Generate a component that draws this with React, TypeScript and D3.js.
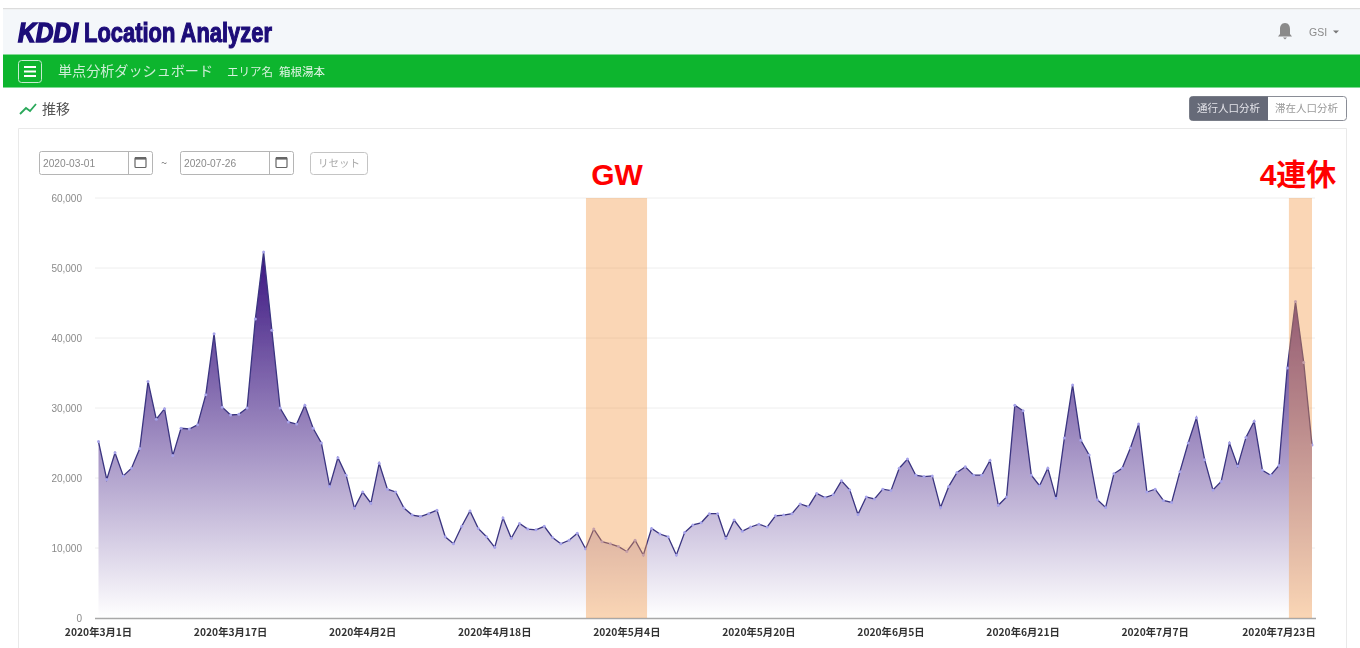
import React from "react";
import * as d3 from "d3";

const values: number[] = [
  25.2, 19.8, 23.6, 20.3, 21.4, 24.2, 33.8, 28.4, 29.9, 23.2, 27.1, 27.0, 27.6, 31.9, 40.6, 30.1,
  29.0, 29.1, 30.0, 42.7, 52.3, 41.1, 30.0, 28.0, 27.7, 30.4, 27.1, 25.0, 18.8, 22.9, 20.4, 15.7,
  18.0, 16.4, 22.1, 18.4, 18.0, 15.7, 14.7, 14.5, 14.9, 15.4, 11.6, 10.6, 13.1, 15.3, 12.8, 11.6,
  10.1, 14.3, 11.4, 13.5, 12.7, 12.6, 13.1, 11.5, 10.6, 11.1, 12.1, 9.9, 12.7, 10.9, 10.6, 10.2,
  9.5, 11.1, 9.0, 12.8, 12.0, 11.6, 9.0, 12.2, 13.3, 13.6, 14.9, 14.9, 11.4, 14.0, 12.4, 13.0,
  13.4, 13.0, 14.6, 14.7, 14.9, 16.3, 15.9, 17.8, 17.2, 17.6, 19.6, 18.3, 14.8, 17.3, 17.0, 18.4,
  18.2, 21.4, 22.7, 20.4, 20.2, 20.3, 15.8, 18.8, 20.8, 21.6, 20.4, 20.4, 22.5, 16.1, 17.3, 30.4,
  29.6, 20.4, 18.9, 21.4, 17.1, 25.7, 33.3, 25.4, 23.3, 16.9, 15.8, 20.6, 21.4, 24.3, 27.7, 18.0,
  18.4, 16.8, 16.5, 20.9, 25.0, 28.6, 22.6, 18.3, 19.5, 25.0, 21.7, 25.8, 28.1, 21.1, 20.4, 21.8,
  35.7, 45.2, 36.5, 24.7,
].map((v) => v * 1000);

const yTicks = [0, 10000, 20000, 30000, 40000, 50000, 60000];
const xTickDays = [0, 16, 32, 48, 64, 80, 96, 112, 128, 144];
const xTickLabels = [
  "2020年3月1日", "2020年3月17日", "2020年4月2日", "2020年4月18日", "2020年5月4日",
  "2020年5月20日", "2020年6月5日", "2020年6月21日", "2020年7月7日", "2020年7月23日",
];
const bands = [
  { label: "GW", from: 59.05, to: 66.45, labelX: 617 },
  { label: "4連休", from: 144.2, to: 147, labelX: 1298 },
];

const W = 1360;
const H = 648;
const JP = "'Noto Sans CJK JP', 'Noto Sans', sans-serif";
const SANS = "'Liberation Sans', Arial, sans-serif";

export default function App() {
  const x = d3.scaleLinear().domain([0, values.length - 1]).range([98.5, 1312]);
  const y = d3.scaleLinear().domain([0, 60000]).range([618, 198]);
  const area = d3.area<number>().x((_, i) => x(i)).y0(y(0)).y1((d) => y(d));
  const line = d3.line<number>().x((_, i) => x(i)).y((d) => y(d));
  const fmt = d3.format(",");
  const boxes = [
    { left: 39, text: "2020-03-01" },
    { left: 180, text: "2020-07-26" },
  ];

  return (
    <svg
      width={W}
      height={H}
      viewBox={`0 0 ${W} ${H}`}
      style={{ position: "fixed", left: 0, top: 0, background: "#fff", display: "block" }}
    >
      <defs>
        <linearGradient id="areaFill" gradientUnits="userSpaceOnUse" x1="0" x2="0" y1={y(52300)} y2={y(0)}>
          <stop offset="0" stopColor="#3a1480" />
          <stop offset="1" stopColor="#ffffff" />
        </linearGradient>
        <filter id="soft" x="-2%" y="-10%" width="104%" height="120%">
          <feGaussianBlur stdDeviation="0.4" />
        </filter>
      </defs>

      <g filter="url(#soft)">
        {/* page header */}
        <rect x={3} y={8} width={W - 3} height={1.5} fill="#dcdcdc" />
        <rect x={3} y={9.5} width={W - 3} height={45} fill="#f4f7fa" />
        <text x={18} y={42} fontFamily={SANS} fontSize={27} fontWeight={700} fontStyle="italic" fill="#1c0a78" stroke="#1c0a78" strokeWidth={1.5} textLength={60} lengthAdjust="spacingAndGlyphs">KDDI</text>
        <text x={84} y={42} fontFamily="'Liberation Sans Narrow', 'Liberation Sans', sans-serif" fontSize={27} fontWeight={700} fill="#1c0a78" stroke="#1c0a78" strokeWidth={1.1} textLength={188} lengthAdjust="spacingAndGlyphs">Location Analyzer</text>
        <path d="M1285 23 c-3.5 0 -5 3 -5 6 v5 l-2 2.5 h14 l-2 -2.5 v-5 c0 -3 -1.5 -6 -5 -6 z M1283 37.5 h4 l-2 2 z" fill="#8a8a8a" />
        <text x={1309} y={36} fontFamily={SANS} fontSize={10.5} fill="#8a8a8a">GSI</text>
        <path d="M1333 30.5 h6 l-3 3 z" fill="#777" />

        {/* green bar */}
        <rect x={3} y={54.5} width={W - 3} height={33} fill="#0db52e" />
        <rect x={18.5} y={60.5} width={23} height={22} rx={3} fill="none" stroke="#c5ecd0" strokeWidth={1} />
        <path d="M24 67 h12 M24 71.5 h12 M24 76 h12" stroke="#fff" strokeWidth={2} />
        <text x={58} y={76} fontFamily={JP} fontSize={14.1} fill="#cdeed5">単点分析ダッシュボード</text>
        <text x={227} y={76} fontFamily={JP} fontSize={11.5} fill="#d8f2de">エリア名</text>
        <text x={279} y={75.5} fontFamily={JP} fontSize={11.5} fill="#e2f5e6">箱根湯本</text>

        {/* section title */}
        <path d="M20 114 L26 108 L30 111 L36 104" fill="none" stroke="#2aa85a" strokeWidth={1.8} />
        <text x={42} y={114} fontFamily={JP} fontSize={14} fill="#555">推移</text>

        <rect x={1189.5} y={96.5} width={157} height={24} rx={3} fill="#fff" stroke="#8a8d96" />
        <path d="M1192.5 96.5 H1268 V120.5 H1192.5 a3 3 0 0 1 -3 -3 V99.5 a3 3 0 0 1 3 -3 z" fill="#666a78" />
        <text x={1197} y={112} fontFamily={JP} fontSize={10.5} fill="#e4e4ea">通行人口分析</text>
        <text x={1275} y={112} fontFamily={JP} fontSize={10.5} fill="#9a9a9a">滞在人口分析</text>

        {/* card */}
        <path d="M18.5 648 V128.5 H1346.5 V648" fill="#fff" stroke="#e9e9e9" />

        {/* date controls */}
        {boxes.map((b) => (
          <g key={b.left}>
            <rect x={b.left + 0.5} y={151.5} width={113} height={23} rx={2} fill="#fff" stroke="#b5b5b5" />
            <line x1={b.left + 89.5} x2={b.left + 89.5} y1={151.5} y2={174.5} stroke="#b5b5b5" />
            <text x={b.left + 4} y={166.5} fontFamily={SANS} fontSize={10.2} fill="#8a8a8a">{b.text}</text>
            <rect x={b.left + 96} y={157.5} width={11} height={10} rx={1} fill="none" stroke="#666" strokeWidth={1.2} />
            <rect x={b.left + 96} y={157} width={11} height={2.6} fill="#666" />
          </g>
        ))}
        <text x={161} y={167} fontFamily={JP} fontSize={11} fill="#777">~</text>
        <rect x={310.5} y={152.5} width={57} height={22} rx={3} fill="#fff" stroke="#c4c4c4" />
        <text x={339} y={167} textAnchor="middle" fontFamily={JP} fontSize={10.5} fill="#aaa">リセット</text>

        {/* grid */}
        {yTicks.map((t) => (
          <g key={t}>
            {t > 0 && <line x1={95} x2={1315} y1={y(t)} y2={y(t)} stroke="#eeeeee" strokeWidth={1} />}
            <text x={82} y={y(t) + 3.5} textAnchor="end" fontFamily={SANS} fontSize={10} fill="#8a8a8a">{fmt(t)}</text>
          </g>
        ))}

        {/* series */}
        <path d={area(values) ?? ""} fill="url(#areaFill)" />
        <path d={line(values) ?? ""} fill="none" stroke="#3a3480" strokeWidth={1.3} />
        {values.map((v, i) => (
          <circle key={i} cx={x(i)} cy={y(v)} r={1.5} fill="#a8a4ea" />
        ))}

        {/* x axis */}
        <line x1={95} x2={1316} y1={618.5} y2={618.5} stroke="#a8a8a8" strokeWidth={1.6} />
        {xTickDays.map((d, i) => {
          const cx = Math.min(x(d), 1279);
          return (
            <text key={d} x={cx} y={636} textAnchor="middle" fontFamily={JP} fontSize={10.3} fontWeight={700} fill="#333">
              {xTickLabels[i]}
            </text>
          );
        })}
      </g>

      {/* highlighted periods */}
      {bands.map((b) => (
        <g key={b.label}>
          <rect x={x(b.from)} y={y(60000)} width={x(b.to) - x(b.from)} height={y(0) - y(60000)} fill="#f29846" fillOpacity={0.4} />
          <text x={b.labelX} y={185} textAnchor="middle" fontFamily={`${SANS.split(",")[0]}, ${JP}`} fontSize={30} fontWeight={700} fill="#ff0000">{b.label}</text>
        </g>
      ))}
    </svg>
  );
}
